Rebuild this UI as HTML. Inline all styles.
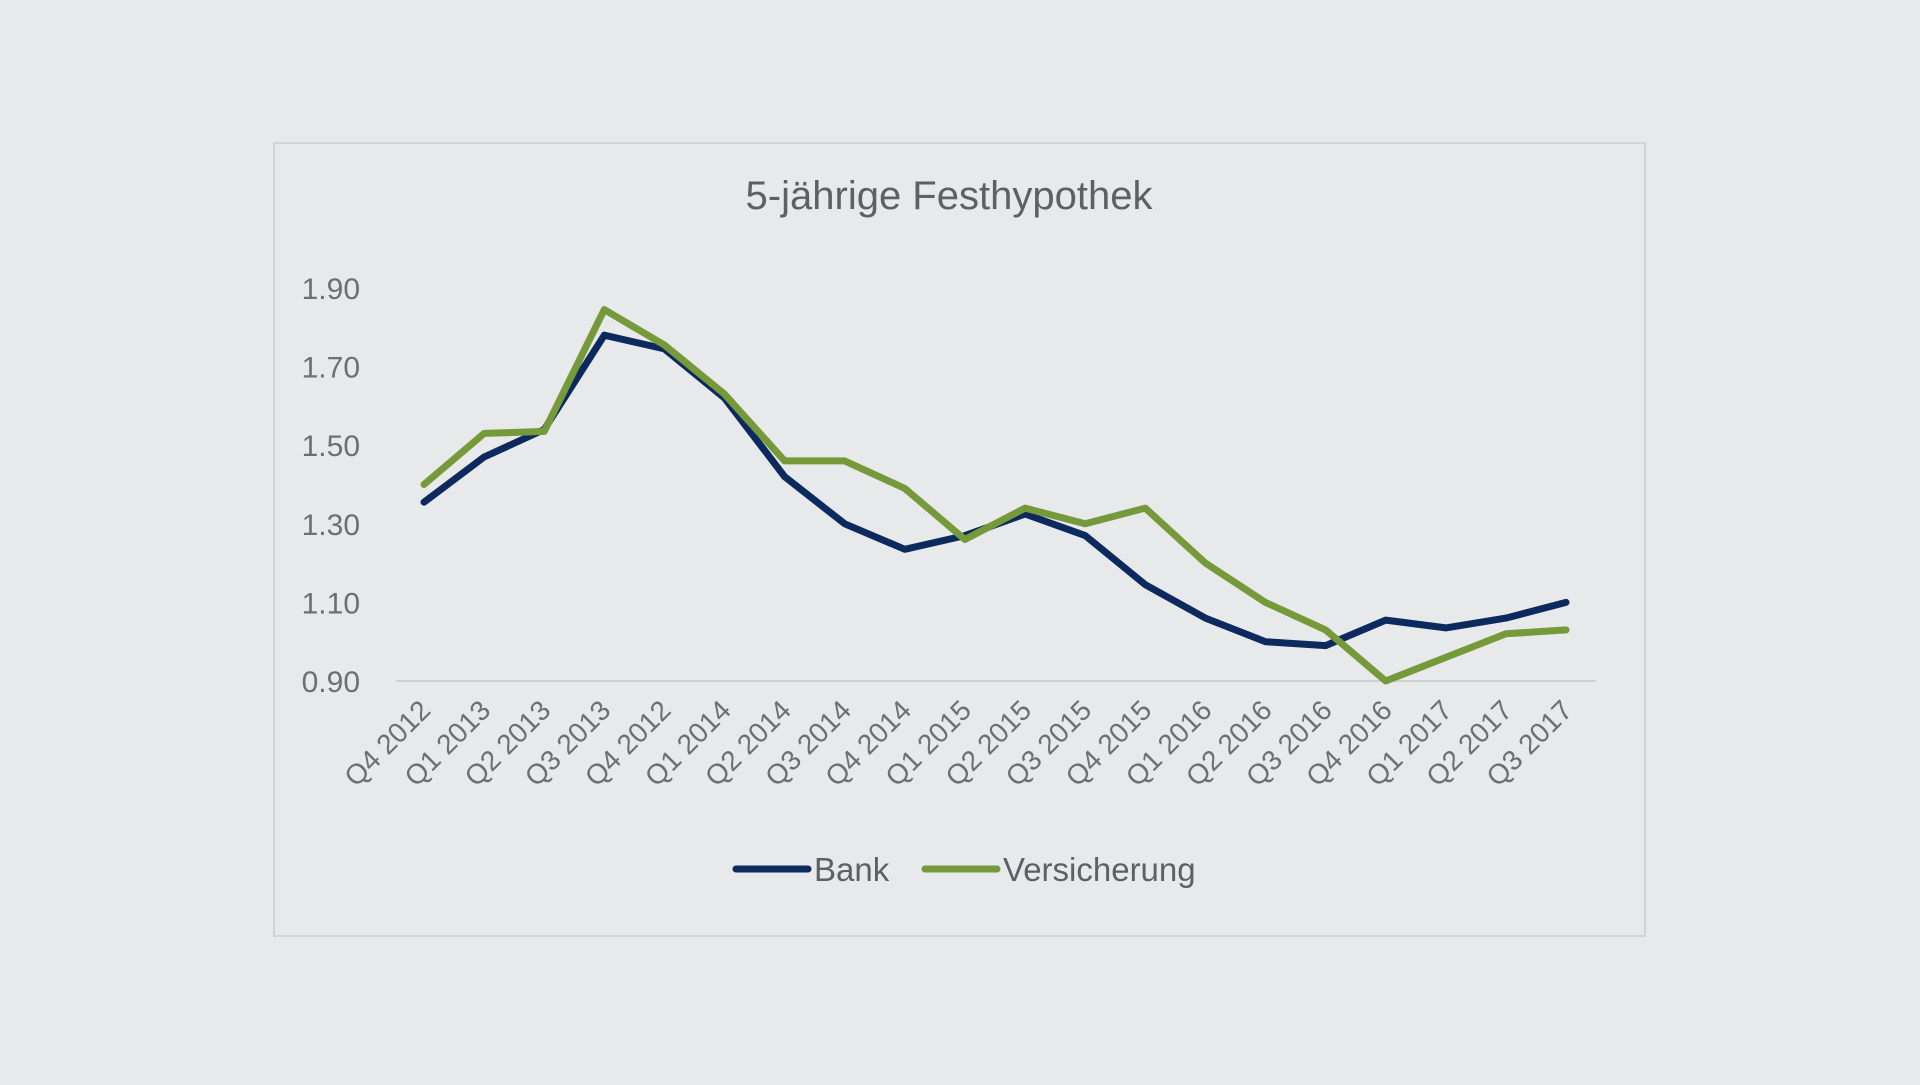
<!DOCTYPE html>
<html><head><meta charset="utf-8"><style>
html,body{margin:0;padding:0;background:#e8e9eb;}
body{width:1920px;height:1080px;position:relative;overflow:hidden;font-family:"Liberation Sans",sans-serif;}
</style></head><body>
<svg width="1920" height="1080" xmlns="http://www.w3.org/2000/svg">
<rect x="274" y="143" width="1371" height="793" fill="#e8e9eb" stroke="#d3d4d6" stroke-width="2"/>
<text x="949" y="209" text-anchor="middle" font-size="40" fill="#5f6062" font-family="Liberation Sans, sans-serif">5-jährige Festhypothek</text>
<g id="axes"></g>
<g id="series"></g>
<g id="legend"></g>
</svg>
<script>
const categories=["Q4 2012","Q1 2013","Q2 2013","Q3 2013","Q4 2012","Q1 2014","Q2 2014","Q3 2014","Q4 2014","Q1 2015","Q2 2015","Q3 2015","Q4 2015","Q1 2016","Q2 2016","Q3 2016","Q4 2016","Q1 2017","Q2 2017","Q3 2017"];
const bankValues=[1.355,1.47,1.54,1.78,1.745,1.62,1.42,1.30,1.235,1.27,1.325,1.27,1.145,1.06,1.00,0.99,1.055,1.035,1.06,1.10];
const versicherungValues=[1.40,1.53,1.535,1.845,1.755,1.63,1.46,1.46,1.39,1.26,1.34,1.30,1.34,1.20,1.10,1.03,0.90,0.96,1.02,1.03];
const yTicks=[0.90,1.10,1.30,1.50,1.70,1.90];
const seriesNames=["Bank","Versicherung"];
const NS="http://www.w3.org/2000/svg";
const x0=424,x1=1566,yMin=0.90,yMax=1.90,yBot=681,yTop=288;
function xs(i){return x0+(x1-x0)*i/(categories.length-1);}
function ys(v){return yBot-(v-yMin)/(yMax-yMin)*(yBot-yTop);}
function mk(tag,attrs,parent){const e=document.createElementNS(NS,tag);for(const k in attrs)e.setAttribute(k,attrs[k]);parent.appendChild(e);return e;}
const axes=document.getElementById('axes');
const grid=mk('line',{x1:396,x2:1596,y1:ys(0.90),y2:ys(0.90),stroke:'#cfd0d2','stroke-width':2},axes);


yTicks.forEach(t=>{
  const tx=mk('text',{x:360,y:ys(t)+11,'text-anchor':'end','font-size':30,fill:'#6e6f71'},axes);
  tx.textContent=t.toFixed(2);
  
  
});
categories.forEach((c,i)=>{
  const x=xs(i)+8,y=712;
  const tx=mk('text',{x:x,y:y,'text-anchor':'end','font-size':28,fill:'#6e6f71',transform:`rotate(-45 ${x} ${y})`},axes);
  tx.textContent=c;
  
  
});
const ser=document.getElementById('series');
const colors=['#0d2a5f','#76993a'];
[bankValues,versicherungValues].forEach((vals,si)=>{
  const pts=vals.map((v,i)=>xs(i).toFixed(1)+','+ys(v).toFixed(1)).join(' ');
  const p=mk('polyline',{points:pts,fill:'none',stroke:colors[si],'stroke-width':7,'stroke-linejoin':'round','stroke-linecap':'round'},ser);
  
  
});
const lg=document.getElementById('legend');
const lx=[[736,808,814],[925,997,1003]];
seriesNames.forEach((n,si)=>{
  const g=mk('g',{},lg);
  
  
  mk('line',{x1:lx[si][0],x2:lx[si][1],y1:869,y2:869,stroke:colors[si],'stroke-width':7,'stroke-linecap':'round'},g);
  const t=mk('text',{x:lx[si][2],y:881,'font-size':33,fill:'#5f6062'},g);
  t.textContent=n;
});
</script>
</body></html>
